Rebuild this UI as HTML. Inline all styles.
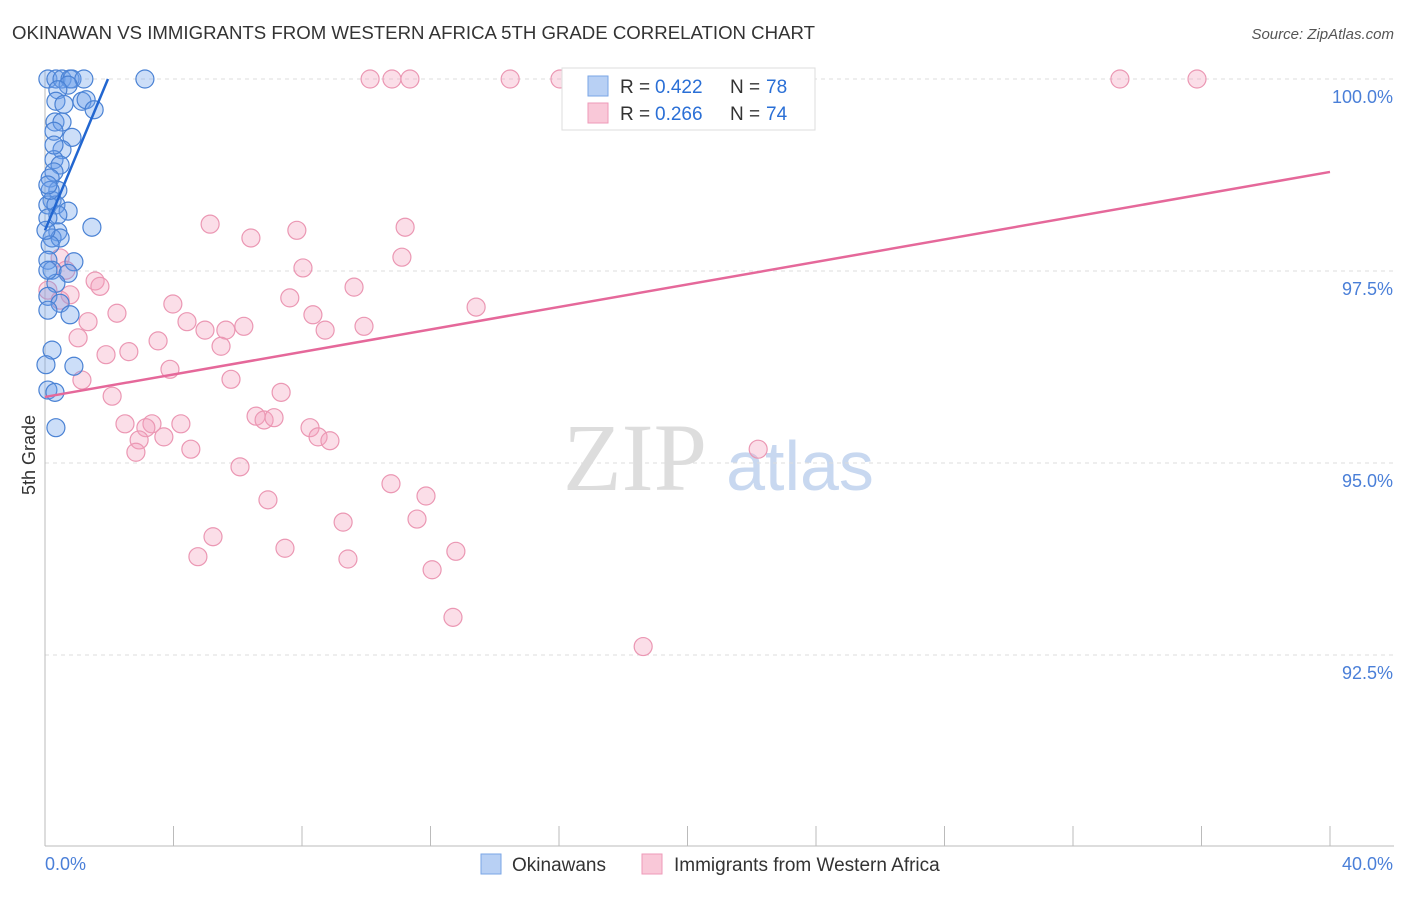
<!DOCTYPE html>
<html><head><meta charset="utf-8"><style>
body{margin:0;background:#fff;font-family:"Liberation Sans",sans-serif}
</style></head><body>
<svg id="c" width="1406" height="892" xmlns="http://www.w3.org/2000/svg">
<text x="12" y="39" font-size="18" fill="#333" textLength="803" lengthAdjust="spacingAndGlyphs">OKINAWAN VS IMMIGRANTS FROM WESTERN AFRICA 5TH GRADE CORRELATION CHART</text>
<text x="1394" y="39" font-size="15" fill="#555" font-style="italic" text-anchor="end">Source: ZipAtlas.com</text>
<text x="35" y="455" font-size="18" fill="#333" transform="rotate(-90 35 455)" text-anchor="middle">5th Grade</text>
<g><text x="635" y="490" font-size="96" fill="#ddd" font-family="Liberation Serif" text-anchor="middle">ZIP</text><text x="800" y="490" font-size="70" fill="#c8d8f0" text-anchor="middle">atlas</text></g>
<g id="grid"></g><g id="axes"></g><g id="pts"></g><g id="trend"></g>
<g>
<rect x="562" y="68" width="253" height="62" fill="#fff" stroke="#ddd"/>
<rect x="588" y="76" width="20" height="20" fill="#b8d0f4" stroke="#7aa6e6"/>
<text x="620" y="93" font-size="19" fill="#333">R =</text><text x="655" y="93" font-size="19" fill="#2a6fd6">0.422</text>
<text x="730" y="93" font-size="19" fill="#333">N =</text><text x="766" y="93" font-size="19" fill="#2a6fd6">78</text>
<rect x="588" y="103" width="20" height="20" fill="#f9c8d8" stroke="#ee9ab8"/>
<text x="620" y="120" font-size="19" fill="#333">R =</text><text x="655" y="120" font-size="19" fill="#2a6fd6">0.266</text>
<text x="730" y="120" font-size="19" fill="#333">N =</text><text x="766" y="120" font-size="19" fill="#2a6fd6">74</text>
</g>
<g>
<rect x="481" y="854" width="20" height="20" fill="#b8d0f4" stroke="#7aa6e6"/>
<text x="512" y="871" font-size="19" fill="#333">Okinawans</text>
<rect x="642" y="854" width="20" height="20" fill="#f9c8d8" stroke="#ee9ab8"/>
<text x="674" y="871" font-size="19" fill="#333">Immigrants from Western Africa</text>
</g>
</svg>
<script>
const blueX=[0.09,0.34,0.53,0.78,0.84,1.21,3.11,0.72,0.40,0.34,0.59,1.15,1.28,1.53,0.31,0.53,0.28,0.84,0.53,0.28,0.47,0.28,0.16,0.40,0.22,0.09,0.34,0.72,0.40,0.09,1.46,0.40,0.22,0.47,0.16,0.09,0.90,0.22,0.72,0.34,0.09,0.47,0.09,0.78,0.22,0.03,0.90,0.09,0.31,0.34,0.09,0.16,0.28,0.09,0.03];
const blueY=[100,100,100,100,100,100,100,99.92,99.86,99.71,99.67,99.71,99.73,99.60,99.44,99.44,99.32,99.24,99.08,98.95,98.88,98.79,98.71,98.55,98.42,98.36,98.36,98.28,98.23,98.19,98.07,98.01,97.93,97.93,97.84,97.64,97.62,97.51,97.47,97.34,97.17,97.08,96.99,96.93,96.47,96.28,96.26,95.95,95.92,95.46,97.51,98.55,99.14,98.62,98.03];
const pinkX=[16.03,16.65,10.12,10.80,11.36,14.48,33.46,35.86,5.14,6.41,7.84,11.21,11.11,8.03,0.47,1.56,1.71,0.78,0.47,7.62,9.62,3.98,13.42,2.24,1.34,4.42,8.34,4.98,5.63,6.19,8.72,9.93,1.03,3.52,5.48,1.90,2.61,3.89,1.15,5.79,2.09,7.35,2.49,3.33,4.23,3.14,2.93,3.70,2.83,4.54,6.57,6.82,7.13,8.25,8.50,8.87,6.07,22.20,10.77,11.86,6.94,9.28,11.58,5.23,4.76,7.47,9.43,12.79,12.05,12.70,18.62,0.65,0.09];
const pinkY=[100,100,100,100,100,100,100,100,98.11,97.93,98.03,98.07,97.68,97.54,97.67,97.37,97.30,97.19,97.12,97.15,97.29,97.07,97.03,96.95,96.84,96.84,96.93,96.73,96.73,96.78,96.73,96.78,96.63,96.59,96.52,96.41,96.45,96.22,96.08,96.09,95.87,95.92,95.51,95.51,95.51,95.46,95.30,95.34,95.14,95.18,95.61,95.56,95.59,95.46,95.34,95.29,94.95,95.18,94.73,94.57,94.52,94.23,94.27,94.04,93.78,93.89,93.75,93.85,93.61,92.99,92.61,97.51,97.25];
const blueTrend=[[0,98.03],[1.96,100]];
const pinkTrend=[[0,95.86],[40,98.79]];
const yTicks=[100,97.5,95,92.5];
const NS="http://www.w3.org/2000/svg";
const X=v=>45+v/40*1285, Y=v=>79+(100-v)*76.8;
function mk(t,a,p){const e=document.createElementNS(NS,t);for(const k in a)e.setAttribute(k,a[k]);p.appendChild(e);return e;}
const grid=document.getElementById('grid'),axes=document.getElementById('axes'),pts=document.getElementById('pts'),tr=document.getElementById('trend');
yTicks.forEach(t=>{
 const l=mk('line',{x1:45,x2:1394,y1:Y(t),y2:Y(t),stroke:'#ddd','stroke-dasharray':'4,4'},grid);
 
 
 const tx=mk('text',{x:1393,y:Y(t)+24,'font-size':18,fill:'#4a7fd8','text-anchor':'end'},axes);
 tx.textContent=t.toFixed(1)+'%';
 
 
});
const al=mk('line',{x1:45,x2:45,y1:70,y2:846,stroke:'#bbb'},axes);


const bl=mk('line',{x1:45,x2:1394,y1:846,y2:846,stroke:'#bbb'},axes);


for(let i=0;i<=10;i++){const tk=mk('line',{x1:X(i*4),x2:X(i*4),y1:826,y2:846,stroke:'#bbb'},axes);
 
 }
[['0.0%',45,'start'],['40.0%',1393,'end']].forEach(([s,x,a])=>{const t=mk('text',{x:x,y:870,'font-size':18,fill:'#4a7fd8','text-anchor':a},axes);t.textContent=s;
 
 });
pinkX.forEach((v,i)=>{const c=mk('circle',{cx:X(v),cy:Y(pinkY[i]),r:9,fill:'rgba(244,160,188,0.35)',stroke:'#eb97b3','stroke-width':1.2},pts);
 
 });
blueX.forEach((v,i)=>{const c=mk('circle',{cx:X(v),cy:Y(blueY[i]),r:9,fill:'rgba(110,160,235,0.35)',stroke:'#4a82d4','stroke-width':1.2},pts);
 
 });
const b=mk('line',{x1:X(blueTrend[0][0]),y1:Y(blueTrend[0][1]),x2:X(blueTrend[1][0]),y2:Y(blueTrend[1][1]),stroke:'#2266d0','stroke-width':2.5},tr);


const p=mk('line',{x1:X(pinkTrend[0][0]),y1:Y(pinkTrend[0][1]),x2:X(pinkTrend[1][0]),y2:Y(pinkTrend[1][1]),stroke:'#e5689a','stroke-width':2.5},tr);


</script>
</body></html>
